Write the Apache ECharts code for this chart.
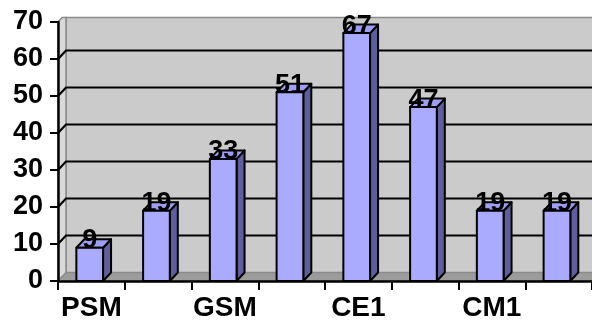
<!DOCTYPE html>
<html>
<head>
<meta charset="utf-8">
<script src="https://cdn.jsdelivr.net/npm/echarts@6/dist/echarts.min.js"></script>
<style>
  html, body { margin: 0; padding: 0; background: #ffffff; }
  #chart { width: 592px; height: 323px; }
</style>
</head>
<body>
<div id="chart"></div>
<script>
// School levels and their counts
const categories = ['PSM', 'MSM', 'GSM', 'CP', 'CE1', 'CE2', 'CM1', 'CM2'];
const values = [9, 19, 33, 51, 67, 47, 19, 19];
// Value axis range
const yMin = 0;
const yMax = 70;
const yStep = 10;

// Depth of the pseudo-3D walls and columns
const DX = 8;
const DY = 8.5;
const FONT = '"Liberation Sans", Arial, sans-serif';

const chart = echarts.init(document.getElementById('chart'), null, { renderer: 'canvas' });

// Back wall, side wall, floor and gridlines
function renderFrame(params, api) {
  const cs = params.coordSys;
  const x0 = cs.x;
  const xr = cs.x + cs.width + 20;
  const yb = api.coord([0, yMin])[1];
  const yt = api.coord([0, yMax])[1];
  const children = [];
  children.push({
    type: 'polygon',
    shape: { points: [[x0, yb], [x0 + DX, yb - DY], [xr, yb - DY], [xr, yb]] },
    style: { fill: '#9c9c9c', stroke: '#808080', lineWidth: 1 }
  });
  children.push({
    type: 'rect',
    shape: { x: x0 + DX, y: yt - DY + 4, width: xr - x0 - DX, height: (yb - DY) - (yt - DY + 4) },
    style: { fill: '#cbcbcb', stroke: '#8a8a8a', lineWidth: 1.5 }
  });
  children.push({
    type: 'polygon',
    shape: { points: [[x0, yb], [x0, yt], [x0 + DX * 0.5, yt - DY + 4], [x0 + DX, yt - DY + 4], [x0 + DX, yb - DY]] },
    style: { fill: '#d9d9d9', stroke: '#8a8a8a', lineWidth: 1.5 }
  });
  for (let v = yMin + yStep; v < yMax; v += yStep) {
    const y = api.coord([0, v])[1];
    children.push({
      type: 'polyline',
      shape: { points: [[x0, y], [x0 + DX, y - DY], [xr, y - DY]] },
      style: { stroke: '#000', lineWidth: 2.2, fill: null }
    });
  }
  return { type: 'group', children: children };
}

// Column with front, top and side faces, and its value label above
function renderColumn(params, api) {
  const i = api.value(0);
  const v = api.value(1);
  const p = api.coord([i, v]);
  const base = api.coord([i, 0]);
  const bw = api.size([1, 0])[0];
  const fx0 = p[0] - bw * 0.225;
  const fx1 = fx0 + bw * 0.4;
  const top = p[1];
  const y0 = base[1];
  const stroke = { stroke: '#000', lineWidth: 2, lineJoin: 'round' };
  return {
    type: 'group',
    children: [
      {
        type: 'polygon',
        shape: { points: [[fx1, top], [fx1 + DX, top - DY], [fx1 + DX, y0 - DY], [fx1, y0]] },
        style: Object.assign({ fill: '#5e5e9c' }, stroke)
      },
      {
        type: 'polygon',
        shape: { points: [[fx0, top], [fx0 + DX, top - DY], [fx1 + DX, top - DY], [fx1, top]] },
        style: Object.assign({ fill: '#9e9ef2' }, stroke)
      },
      {
        type: 'rect',
        shape: { x: fx0, y: top, width: fx1 - fx0, height: y0 - top },
        style: Object.assign({ fill: '#aaaaff' }, stroke)
      },
      {
        type: 'text',
        style: {
          x: (fx0 + fx1) / 2, y: top - 7,
          text: String(v),
          fill: '#000',
          font: 'bold 27px ' + FONT,
          align: 'center',
          verticalAlign: 'middle'
        }
      }
    ]
  };
}

const option = {
  animation: false,
  backgroundColor: '#ffffff',
  grid: { left: 58, right: 0, top: 22, bottom: 42, containLabel: false },
  xAxis: {
    type: 'category',
    data: categories,
    z: 5,
    axisLine: { lineStyle: { color: '#000', width: 2.5 } },
    axisTick: { show: true, length: 9, interval: 0, lineStyle: { color: '#000', width: 2 } },
    axisLabel: {
      interval: 1,
      margin: 13,
      color: '#000',
      fontFamily: FONT,
      fontWeight: 'bold',
      fontSize: 28
    },
    splitLine: { show: false }
  },
  yAxis: {
    type: 'value',
    min: yMin,
    max: yMax,
    interval: yStep,
    z: 5,
    axisLine: { show: true, lineStyle: { color: '#000', width: 2.5 } },
    axisTick: { show: true, length: 8, lineStyle: { color: '#000', width: 2 } },
    axisLabel: {
      margin: 15,
      color: '#000',
      fontFamily: FONT,
      fontWeight: 'bold',
      fontSize: 27
    },
    splitLine: { show: false }
  },
  series: [
    {
      type: 'custom',
      z: 1,
      renderItem: renderFrame,
      data: [[0, 0]],
      encode: { x: 0, y: 1 },
      silent: true
    },
    {
      type: 'custom',
      z: 2,
      renderItem: renderColumn,
      data: values.map(function (v, i) { return [i, v]; }),
      encode: { x: 0, y: 1 },
      clip: false
    }
  ]
};

chart.setOption(option);
</script>
</body>
</html>
